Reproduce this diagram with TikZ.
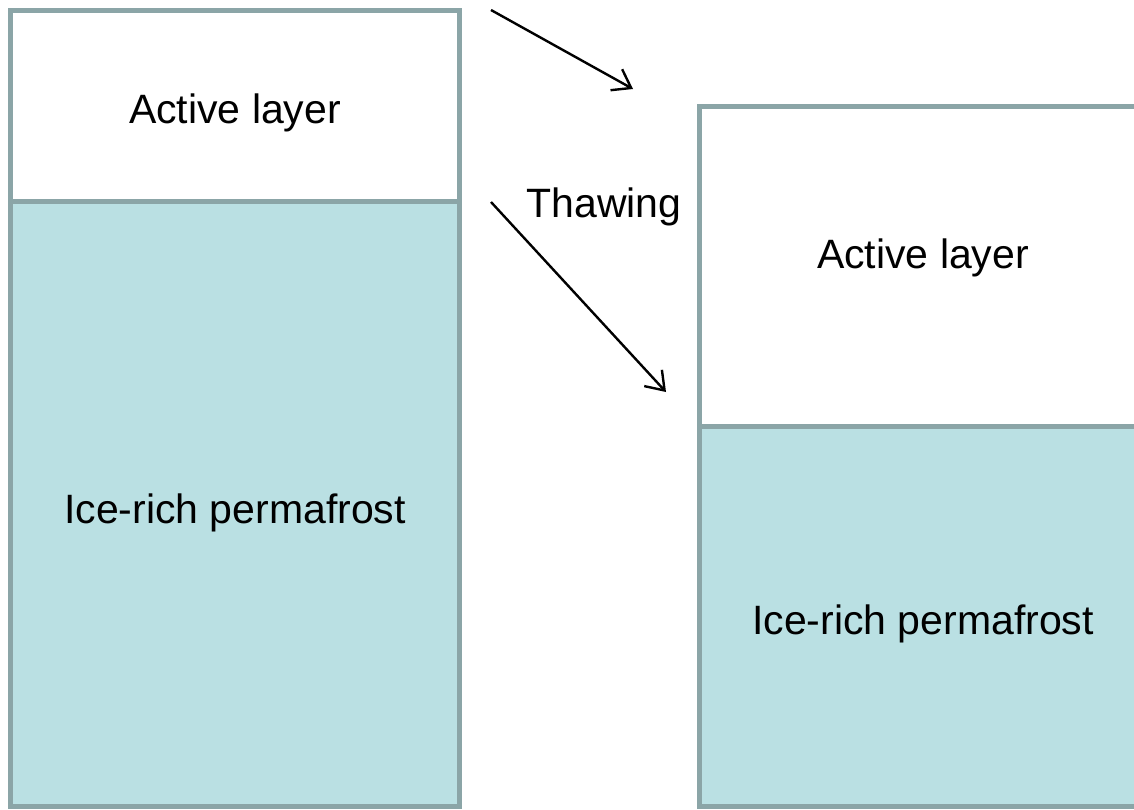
\documentclass[tikz,border=0pt]{standalone}
\usepackage{fontspec}
\setmainfont{Liberation Sans}
\usetikzlibrary{arrows.meta}
\definecolor{edgegrey}{RGB}{139,165,167}
\definecolor{icefill}{RGB}{186,224,227}
\tikzset{
  layerbox/.style={draw=edgegrey, line width=5pt},
  activefill/.style={layerbox, fill=white},
  icebox/.style={layerbox, fill=icefill},
  lbl/.style={anchor=base, inner sep=0pt, font=\fontsize{41}{49}\selectfont},
  thawarrow/.style={line width=2.4pt, -{Straight Barb[length=17pt,width=24pt,line width=2.4pt]}}
}
\begin{document}
\begin{tikzpicture}[x=1pt,y=-1pt]
\useasboundingbox (0,0) rectangle (1134,809);
\begin{scope}
\clip (0,0) rectangle (1134,809);
% left column
\draw[icebox] (10.5,201) rectangle (459,806);
\draw[activefill] (10.5,10) rectangle (459,201);
% right column
\draw[icebox] (699,426) rectangle (1147,806);
\draw[activefill] (699,106) rectangle (1147,426);
\end{scope}
% labels
\node[lbl] (al1) at (235,123) {Active layer};
\node[lbl] (ip1) at (235,523) {Ice-rich permafrost};
\node[lbl] (al2) at (923,268) {Active layer};
\node[lbl] (ip2) at (923,634) {Ice-rich permafrost};
\node[lbl] (thaw) at (604,217) {Thawing};
% arrows
\coordinate (a1s) at (491,10);
\coordinate (a1e) at (633,89);
\coordinate (a2s) at (491,202);
\coordinate (a2e) at (666,392);
\draw[thawarrow] (a1s) -- (a1e);
\draw[thawarrow] (a2s) -- (a2e);
\end{tikzpicture}
\end{document}
